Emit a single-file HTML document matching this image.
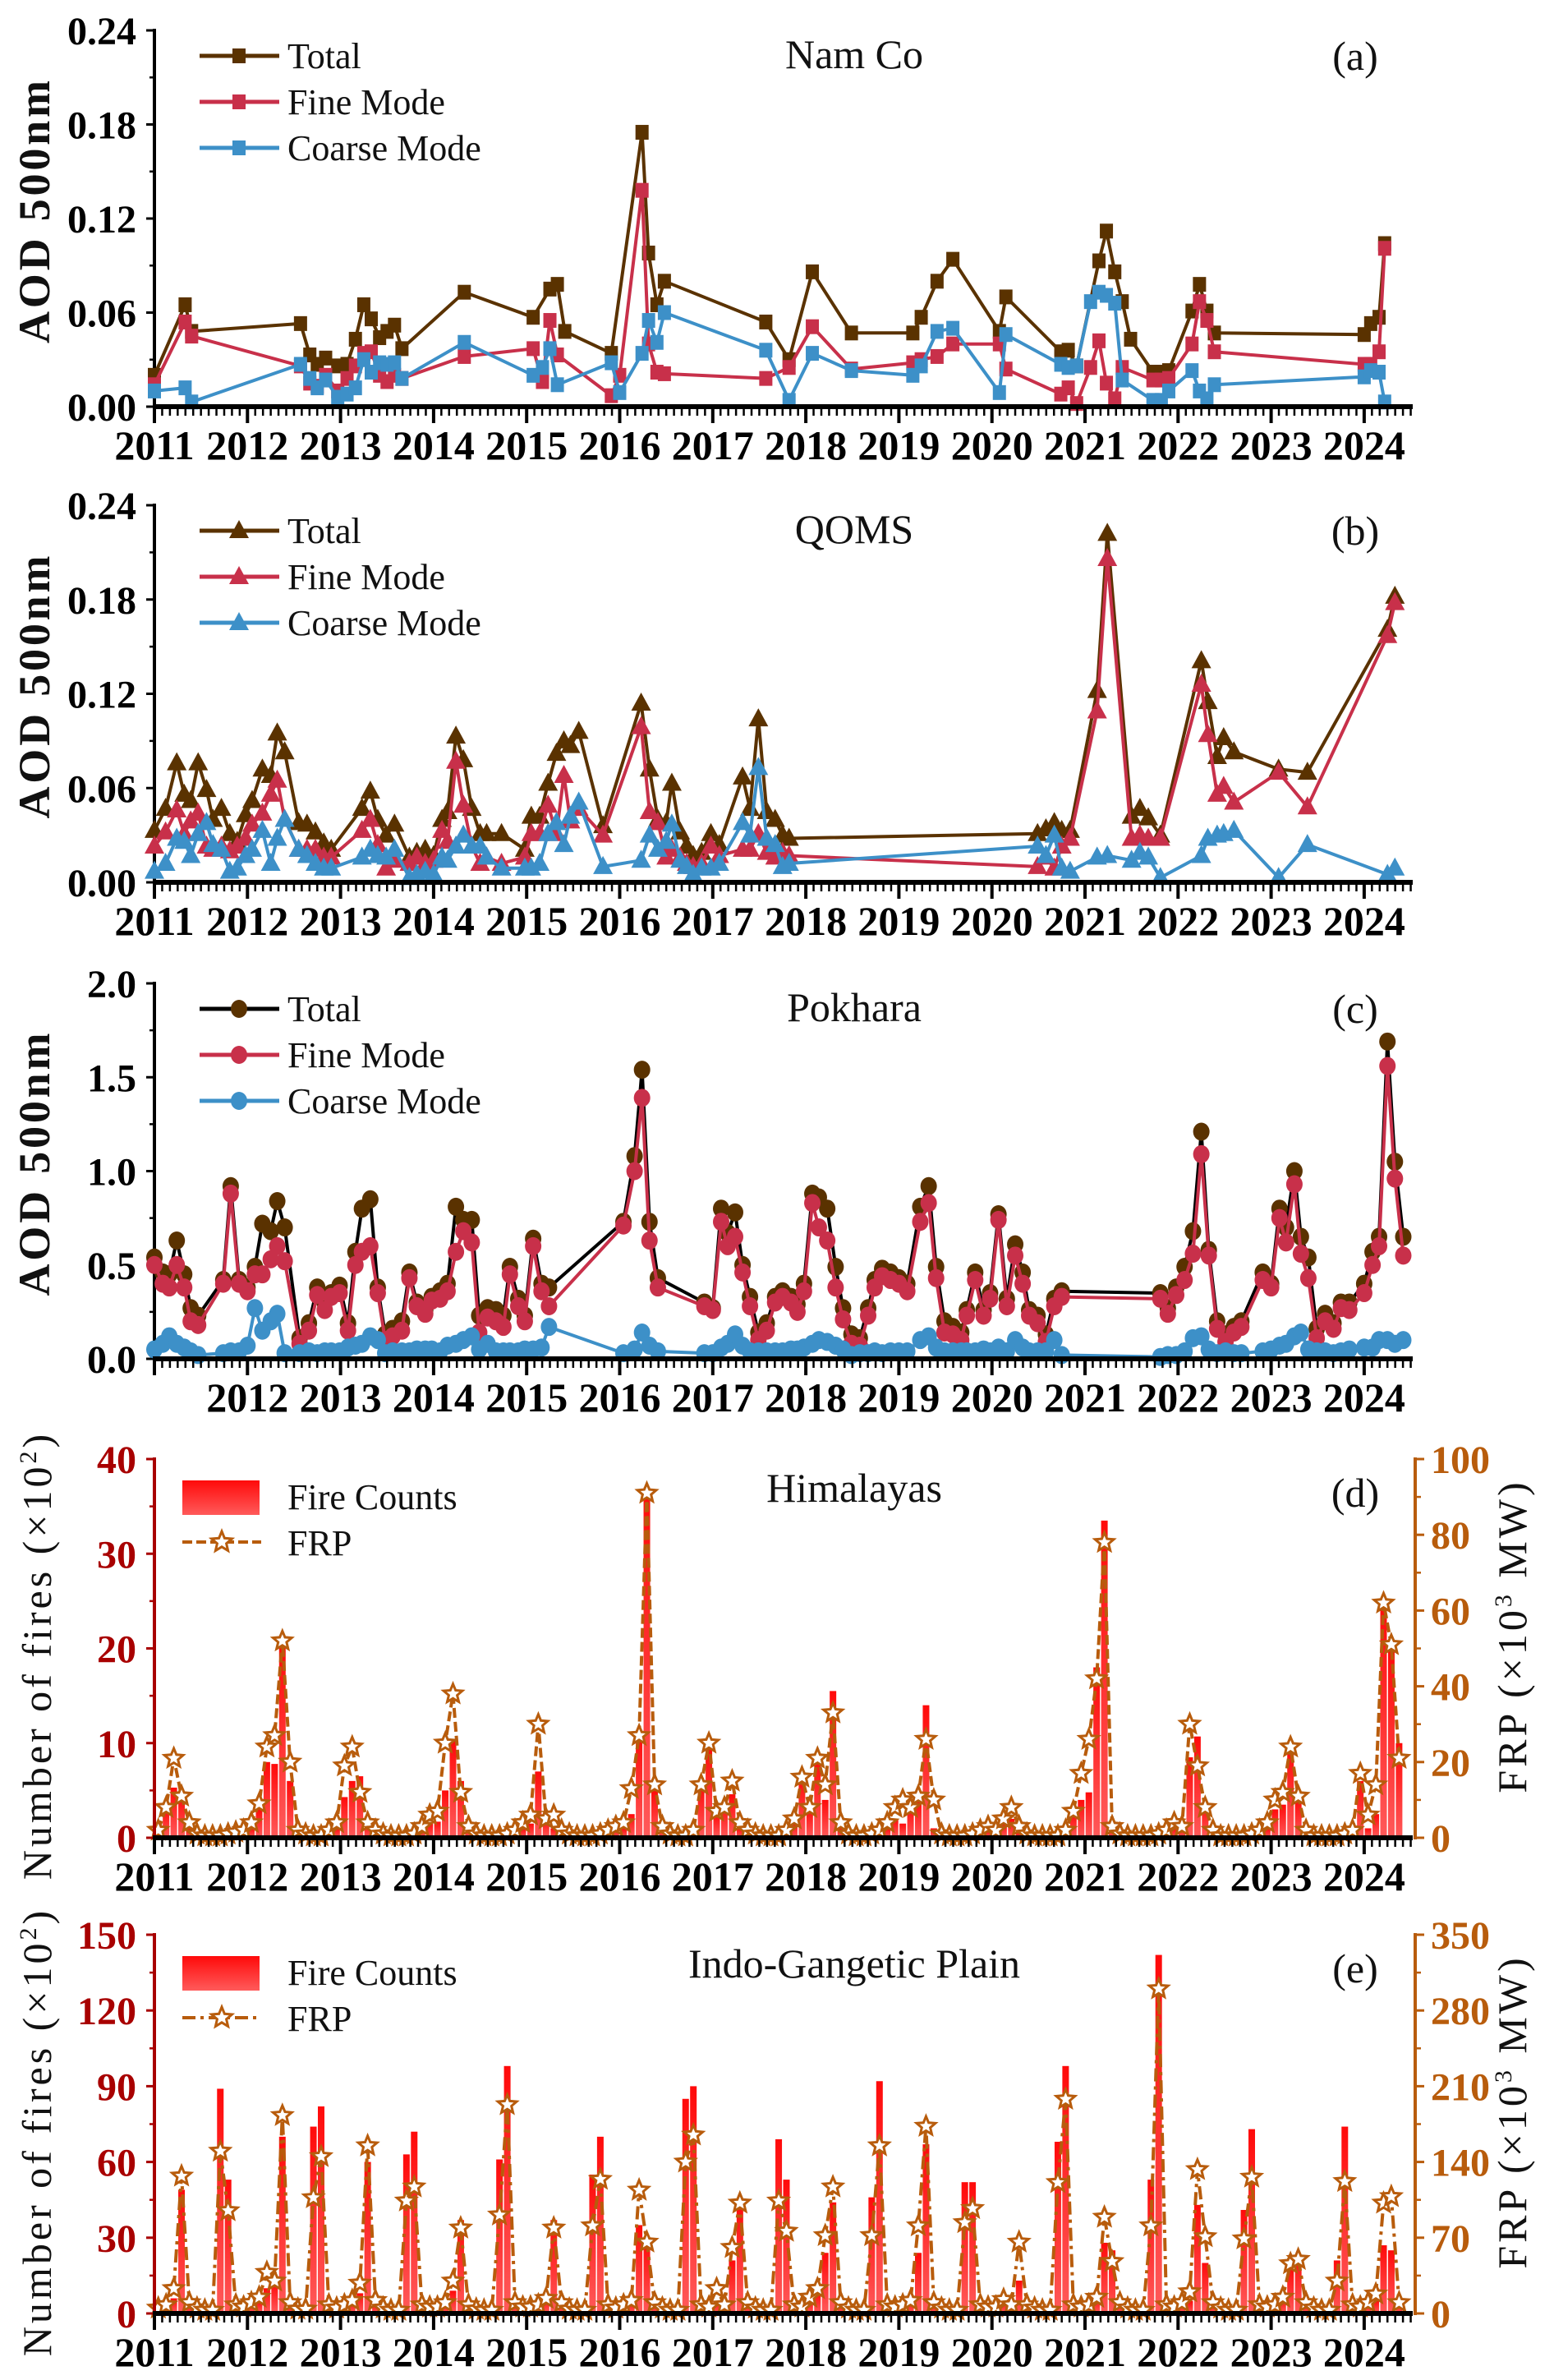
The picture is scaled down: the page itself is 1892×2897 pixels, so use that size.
<!DOCTYPE html>
<html><head><meta charset="utf-8"><title>AOD and fire time series</title>
<style>
html,body{margin:0;padding:0;background:#fff;}
svg{display:block;font-family:"Liberation Serif","DejaVu Serif",serif;}
</style></head>
<body>
<svg id="chart" xmlns="http://www.w3.org/2000/svg" width="1892" height="2897" viewBox="0 0 1892 2897">
<defs>
<linearGradient id="barGrad" x1="0" y1="0" x2="0" y2="1">
<stop offset="0" stop-color="#ff0a0a"/><stop offset="1" stop-color="#ff5a5a"/>
</linearGradient>
</defs>
</svg>
<script>
// ---------------- Panel (a) Nam Co ----------------
const aTotX=[2011.0,2011.33,2011.4,2012.57,2012.67,2012.75,2012.84,2012.97,2013.07,2013.16,2013.25,2013.33,2013.42,2013.5,2013.58,2013.66,2014.33,2015.07,2015.25,2015.33,2015.41,2015.91,2016.24,2016.31,2016.4,2016.48,2017.57,2017.82,2018.07,2018.49,2019.15,2019.24,2019.41,2019.58,2020.08,2020.15,2020.74,2020.82,2020.91,2021.15,2021.23,2021.32,2021.4,2021.49,2021.73,2021.82,2021.9,2022.15,2022.23,2022.31,2022.39,2024.0,2024.07,2024.16,2024.22];
const aTotY=[.020,.065,.048,.053,.033,.027,.031,.026,.027,.043,.065,.056,.044,.048,.052,.037,.073,.057,.075,.078,.048,.034,.175,.098,.065,.080,.054,.030,.086,.047,.047,.057,.080,.094,.048,.070,.035,.036,.026,.093,.112,.086,.067,.043,.022,.022,.023,.061,.078,.061,.047,.046,.053,.057,.104];
const aModeX=[2011.0,2011.33,2011.4,2012.57,2012.67,2012.75,2012.84,2012.97,2013.07,2013.16,2013.25,2013.33,2013.42,2013.5,2013.58,2013.66,2014.33,2015.07,2015.17,2015.25,2015.33,2015.91,2016.0,2016.24,2016.31,2016.4,2016.48,2017.57,2017.82,2018.07,2018.49,2019.15,2019.24,2019.41,2019.58,2020.08,2020.15,2020.74,2020.82,2020.91,2021.06,2021.15,2021.23,2021.32,2021.4,2021.73,2021.82,2021.9,2022.15,2022.23,2022.31,2022.39,2024.0,2024.07,2024.16,2024.22];
const aFinY=[.014,.054,.045,.026,.015,.013,.020,.010,.018,.026,.034,.035,.020,.016,.020,.018,.032,.037,.016,.055,.033,.007,.020,.138,.040,.022,.021,.018,.025,.051,.024,.028,.030,.032,.040,.040,.024,.008,.012,.002,.025,.042,.015,.005,.025,.017,.017,.018,.040,.067,.055,.035,.027,.027,.035,.101];
const aCoaY=[.010,.012,.003,.027,.018,.012,.017,.006,.008,.012,.030,.022,.028,.027,.028,.018,.041,.020,.025,.037,.014,.028,.009,.034,.055,.041,.060,.036,.004,.034,.023,.020,.026,.048,.050,.009,.046,.027,.025,.026,.067,.073,.071,.066,.017,.004,.004,.010,.023,.010,.005,.014,.019,.023,.022,.003];
// ---------------- Panel (b) QOMS ----------------
const bX=[2011.00,2011.12,2011.24,2011.32,2011.39,2011.47,2011.56,2011.63,2011.72,2011.81,2011.89,2011.98,2012.05,2012.16,2012.25,2012.32,2012.40,2012.55,2012.64,2012.73,2012.82,2012.90,2013.23,2013.32,2013.40,2013.49,2013.58,2013.74,2013.82,2013.91,2014.00,2014.09,2014.15,2014.24,2014.32,2014.41,2014.50,2014.57,2014.73,2014.98,2015.05,2015.14,2015.23,2015.32,2015.40,2015.47,2015.56,2015.82,2016.23,2016.32,2016.41,2016.50,2016.56,2016.65,2016.72,2016.79,2016.88,2016.98,2017.07,2017.32,2017.40,2017.49,2017.58,2017.67,2017.75,2017.82,2020.49,2020.58,2020.67,2020.75,2020.84,2021.13,2021.24,2021.50,2021.59,2021.68,2021.81,2022.25,2022.32,2022.42,2022.49,2022.60,2023.08,2023.39,2024.25,2024.33];
const bTot=[.033,.047,.076,.056,.052,.076,.059,.040,.047,.031,.026,.043,.052,.072,.068,.095,.083,.038,.037,.032,.025,.021,.047,.058,.040,.030,.037,.016,.019,.021,.017,.040,.045,.093,.078,.047,.031,.031,.031,.021,.042,.042,.063,.082,.090,.087,.096,.036,.114,.072,.040,.038,.063,.032,.023,.017,.019,.031,.024,.067,.047,.104,.045,.040,.030,.028,.031,.034,.038,.033,.033,.122,.222,.042,.047,.041,.030,.141,.115,.080,.092,.083,.072,.070,.161,.182];
const bFin=[.023,.032,.046,.031,.039,.044,.023,.021,.023,.020,.023,.028,.037,.044,.056,.065,.040,.021,.021,.021,.016,.016,.033,.040,.024,.009,.014,.012,.016,.012,.014,.033,.026,.077,.049,.023,.012,.016,.012,.016,.031,.031,.049,.031,.068,.039,.047,.030,.099,.045,.038,.016,.021,.016,.012,.010,.012,.023,.017,.021,.021,.031,.019,.016,.019,.017,.010,.016,.009,.023,.028,.109,.206,.028,.030,.028,.028,.126,.094,.056,.061,.051,.070,.048,.157,.178];
const bCoa=[.007,.012,.028,.026,.017,.031,.038,.024,.021,.007,.009,.017,.021,.033,.012,.028,.040,.021,.017,.012,.009,.009,.016,.021,.017,.016,.021,.003,.005,.007,.005,.016,.014,.023,.030,.023,.023,.016,.009,.009,.009,.012,.031,.038,.024,.042,.051,.010,.014,.030,.021,.026,.037,.014,.010,.005,.009,.009,.012,.038,.030,.073,.028,.024,.010,.012,.023,.017,.030,.009,.007,.016,.017,.014,.019,.016,.003,.017,.028,.030,.031,.033,.003,.024,.005,.009];
// ---------------- Panel (c) Pokhara ----------------
const cX=[2011.00,2011.09,2011.16,2011.24,2011.32,2011.39,2011.47,2011.74,2011.82,2011.91,
2012.00,2012.08,2012.16,2012.25,2012.32,2012.40,2012.56,2012.66,2012.75,2012.83,2012.90,2012.99,
2013.08,2013.16,2013.23,2013.32,2013.40,2013.48,2013.56,2013.66,2013.74,2013.82,2013.91,2013.98,
2014.07,2014.15,2014.24,2014.32,2014.41,2014.49,2014.58,2014.67,2014.75,2014.82,2014.91,2014.98,
2015.07,2015.16,2015.24,
2016.04,2016.16,2016.24,2016.32,2016.41,
2016.91,2017.00,2017.09,2017.16,2017.24,2017.32,2017.40,2017.49,2017.58,2017.67,2017.75,2017.84,2017.91,2017.98,
2018.07,2018.14,2018.23,2018.32,2018.40,2018.49,2018.58,2018.67,2018.74,2018.82,2018.91,
2019.00,2019.09,2019.23,2019.32,2019.40,2019.49,2019.58,2019.67,2019.73,2019.82,2019.91,2019.98,
2020.07,2020.16,2020.25,2020.33,2020.40,2020.49,2020.58,2020.67,2020.75,
2021.81,2021.89,2021.98,2022.07,2022.16,2022.25,2022.33,2022.42,2022.51,2022.60,2022.68,
2022.91,2023.00,2023.09,2023.16,2023.25,2023.32,2023.40,2023.49,2023.58,2023.67,2023.75,2023.84,
2024.00,2024.09,2024.16,2024.25,2024.33,2024.42];
const cTot=[.54,.46,.45,.63,.45,.27,.23,.42,.92,.42,
.38,.49,.72,.68,.84,.70,.11,.19,.38,.30,.35,.39,
.19,.57,.80,.85,.38,.13,.16,.20,.46,.30,.26,.33,
.36,.40,.81,.74,.74,.23,.27,.26,.23,.49,.32,.23,
.64,.40,.38,
.73,1.08,1.54,.73,.43,
.30,.27,.80,.67,.78,.50,.33,.14,.19,.33,.36,.33,.29,.40,
.88,.86,.80,.49,.27,.13,.11,.27,.42,.48,.46,
.43,.40,.81,.92,.49,.20,.17,.14,.26,.46,.26,.35,
.77,.32,.61,.46,.26,.23,.13,.32,.36,
.35,.27,.38,.49,.68,1.21,.58,.20,.13,.17,.20,
.46,.40,.80,.70,1.00,.65,.54,.16,.24,.19,.30,.30,
.40,.57,.65,1.69,1.05,.65];
const cFin=[.50,.40,.38,.50,.38,.20,.18,.40,.88,.40,
.36,.45,.45,.53,.60,.52,.08,.15,.34,.26,.33,.35,
.15,.50,.57,.60,.35,.10,.12,.15,.43,.28,.24,.31,
.32,.36,.57,.68,.62,.14,.22,.20,.17,.45,.28,.20,
.60,.36,.28,
.71,1.00,1.39,.63,.38,
.28,.26,.73,.60,.65,.46,.28,.10,.15,.30,.33,.30,.25,.36,
.83,.70,.63,.38,.21,.08,.07,.23,.38,.44,.42,
.40,.36,.73,.83,.43,.14,.13,.10,.23,.42,.23,.32,
.74,.28,.55,.40,.23,.19,.09,.28,.33,
.32,.24,.34,.42,.56,1.09,.55,.16,.09,.14,.17,
.42,.38,.75,.62,.93,.56,.43,.11,.20,.16,.27,.26,
.35,.50,.60,1.56,.96,.55];
const cCoa=[.05,.08,.12,.08,.06,.04,.02,.03,.04,.04,
.07,.27,.15,.20,.24,.03,.03,.04,.03,.04,.04,.04,
.06,.07,.08,.12,.10,.03,.04,.04,.04,.05,.05,.05,
.04,.07,.08,.10,.12,.05,.08,.04,.04,.04,.04,.05,
.05,.06,.17,
.03,.05,.14,.07,.04,
.03,.03,.06,.08,.13,.07,.04,.04,.04,.04,.04,.05,.05,.06,
.08,.10,.09,.07,.05,.02,.03,.03,.04,.03,.04,
.04,.04,.10,.12,.06,.04,.04,.04,.04,.04,.05,.04,
.06,.04,.10,.06,.04,.04,.04,.10,.02,
.01,.02,.02,.04,.11,.12,.05,.03,.04,.03,.03,
.04,.05,.07,.08,.12,.14,.05,.04,.04,.03,.04,.05,
.06,.06,.10,.10,.08,.10];
// ---------------- Panel (d) Himalayas (monthly from Jan 2011) ----------------
const dFire=[0.5,3,5.3,4.5,1,0.3,0.1,0.1,0.1,0.2,0.5,0.8,
1,3,8,7.8,20.5,6,0.5,0.2,0.1,0.1,0.3,1,
4.3,6,6.5,1.5,0.5,0.2,0.1,0.1,0.1,0.3,1,1.5,
1.7,5,10.3,6,1,0.3,0.1,0.1,0.1,0.2,0.5,1,
1.5,7,2,1,0.5,0.2,0.1,0.1,0.1,0.2,0.5,1,
1,2.5,11,37,5,1,0.3,0.1,0.1,0.3,5.6,9.7,
2.5,3.5,4.6,1,0.3,0.1,0.1,0.1,0.2,0.5,1.5,6.5,
3,8.5,4,15.5,1,0.3,0.1,0.1,0.2,0.5,1,2,
1.5,3.2,4,14,1,0.3,0.1,0.1,0.1,0.2,0.5,0.8,
0.5,1.5,2,0.5,0.2,0.1,0.1,0.1,0.1,0.3,2.5,4,
4.8,18,33.5,1,0.3,0.1,0.1,0.1,0.1,0.2,0.5,1,
1,8.5,10.7,3.5,0.5,0.1,0.1,0.1,0.1,0.2,0.5,1,
3,3.5,9.5,4,0.3,0.1,0.1,0.1,0.1,0.2,0.5,6,
1,2.5,25,20,10];
const dFrp=[2,8,21,11,4,1,0.5,0.5,0.5,1,1.5,2,
4,9,24,27,52,20,2,1,0.5,0.5,2,4,
19,24,12,4,2,1,0.5,0.5,0.5,1,3,6,
7,25,38,12,3,1,0.5,0.5,0.5,1,2,4,
6,30,5,6,2,1,0.5,0.5,0.5,1,2,3,
4,13,27,91,14,3,1,0.5,0.5,2,14,25,
7,8,15,4,2,1,0.5,0.5,0.5,2,5,16,
8,21,14,33,4,1,0.5,0.5,1,2,4,8,
10,8,11,26,10,1,0.5,0.5,0.5,1,2,3,
2,5,8,3,1,0.5,0.5,0.5,0.5,2,7,17,
26,42,78,3,1,0.5,0.5,0.5,0.5,1,2,4,
3,30,19,8,2,0.5,0.5,0.5,0.5,1,2,4,
10,12,24,11,2,0.5,0.5,0.5,0.5,1,2,17,
6,14,62,51,21];
// ---------------- Panel (e) Indo-Gangetic Plain (monthly from Jan 2011) ----------------
const eFire=[2,3,6,49,3,2,1,1,89,53,3,2,
4,5,10,12,70,3,1,1,74,82,4,3,
3,5,8,60,4,2,1,1,63,72,3,3,
3,4,9,37,3,2,1,1,61,98,4,3,
3,3,6,37,4,2,1,1,55,70,4,3,
4,5,35,28,4,2,1,1,85,90,4,3,
5,3,21,44,4,2,1,1,69,53,4,3,
5,8,24,44,4,2,1,1,46,92,4,3,
4,5,24,67,4,2,1,1,52,52,4,3,
3,5,4,13,3,2,1,1,68,98,4,3,
4,6,28,25,4,2,1,1,53,142,4,3,
4,5,43,20,4,2,1,1,41,73,4,3,
4,6,18,23,4,2,1,1,21,74,4,3,
4,5,27,25,4];
const eFrp=[5,8,23,127,10,5,3,3,150,95,8,6,
10,15,38,30,183,10,4,4,107,145,8,5,
8,12,28,155,12,5,3,3,104,117,8,6,
6,10,30,79,8,4,3,3,91,193,10,6,
6,8,14,79,10,4,3,3,81,124,8,5,
8,12,114,66,10,5,3,3,140,165,8,6,
23,8,61,102,10,5,3,3,104,76,8,6,
15,23,72,117,10,5,3,3,72,155,8,6,
8,12,81,173,10,5,3,3,84,97,8,6,
6,13,8,66,8,5,3,3,121,198,8,6,
8,15,89,48,10,5,3,3,81,300,8,6,
10,20,133,71,10,5,3,3,69,126,8,6,
8,15,46,50,10,5,3,3,30,122,8,6,
10,18,102,108,10];
const yearLabels=['2011','2012','2013','2014','2015','2016','2017','2018','2019','2020','2021','2022','2023','2024'];

const NS='http://www.w3.org/2000/svg';
const svg=document.getElementById('chart');
function mk(tag,attrs,parent){const e=document.createElementNS(NS,tag);for(const k in attrs)e.setAttribute(k,attrs[k]);(parent||svg).appendChild(e);return e;}
const X0=188,X1=1720,YW=113.3;
function xs(t){return X0+(t-2011)*YW;}
function yscale(top,bot,max){return v=>bot-(v/max)*(bot-top);}
const BROWN='#5a3200',RED='#c8304a',BLUE='#3d90c8',ORANGE='#b85c0c',DRED='#a80000';

function xAxis(bot,skipFirst,g){
  for(let i=0;;i++){const t=2011+i/12;const x=xs(t);if(x>X1+1)break;
    const major=(i%12===0);
    const tk=mk('line',{x1:x,y1:bot,x2:x,y2:bot+(major?20:11),stroke:'#000','stroke-width':major?4:2.5},g);
    
    
  }
  const ax=mk('line',{x1:X0-2,y1:bot,x2:X1,y2:bot,stroke:'#000','stroke-width':6},g);
  
  
  yearLabels.forEach((lab,i)=>{ if(skipFirst&&i===0)return;
    const t=mk('text',{x:xs(2011+i),y:bot+64,'text-anchor':'middle','font-size':50,'font-weight':'bold',fill:'#000'},g);
    t.textContent=lab;
    
    
  });
}
function yAxisLeft(top,bot,ticks,fmt,max,color,labColor,g){
  const ys=yscale(top,bot,max);
  const ax=mk('line',{x1:X0,y1:top-2,x2:X0,y2:bot,stroke:color,'stroke-width':4},g);
  
  
  ticks.forEach((v,i)=>{
    const tk=mk('line',{x1:X0-10,y1:ys(v),x2:X0,y2:ys(v),stroke:color,'stroke-width':3},g);
    
    
    if(i<ticks.length-1){const m=(v+ticks[i+1])/2;
      const mt=mk('line',{x1:X0-6,y1:ys(m),x2:X0,y2:ys(m),stroke:color,'stroke-width':2.5},g);
      
      }
    const t=mk('text',{x:166,y:ys(v)+17,'text-anchor':'end','font-size':48,'font-weight':'bold',fill:labColor},g);
    t.textContent=fmt(v);
    
    
  });
}
function yAxisRight(top,bot,ticks,max,g){
  const ys=yscale(top,bot,max);const XR=1723;
  const ax=mk('line',{x1:XR,y1:top-2,x2:XR,y2:bot+2,stroke:ORANGE,'stroke-width':4},g);
  
  
  ticks.forEach((v,i)=>{
    const tk=mk('line',{x1:XR,y1:ys(v),x2:XR+11,y2:ys(v),stroke:ORANGE,'stroke-width':3},g);
    
    
    if(i<ticks.length-1){const m=(v+ticks[i+1])/2;
      const mt=mk('line',{x1:XR,y1:ys(m),x2:XR+7,y2:ys(m),stroke:ORANGE,'stroke-width':2.5},g);
      
      }
    const t=mk('text',{x:1742,y:ys(v)+17,'text-anchor':'start','font-size':48,'font-weight':'bold',fill:ORANGE},g);
    t.textContent=String(v);
    
    
  });
}
function vTitle(x,cy,txt,len,bold,size,g,name){
  const t=mk('text',{x:0,y:0,transform:`translate(${x},${cy}) rotate(-90)`,'text-anchor':'middle','font-size':size,'font-weight':bold?'bold':'normal',fill:'#111'},g);
  if(len)t.setAttribute('textLength',len);
  t.textContent=txt;
  
  
  return t;
}
function label(x,y,txt,size,anchor,g,name){
  const t=mk('text',{x:x,y:y,'text-anchor':anchor,'font-size':size,fill:'#111'},g);
  t.textContent=txt;
  
  
  return t;
}
function marker(shape,x,y,fill,g){
  let m;
  if(shape==='sq') m=mk('rect',{x:x-8,y:y-9,width:16,height:18,fill:fill},g);
  else if(shape==='tri') m=mk('path',{d:`M${x},${y-13} L${x+12},${y+9} L${x-12},${y+9} Z`,fill:fill},g);
  else m=mk('ellipse',{cx:x,cy:y,rx:10,ry:11,fill:fill},g);
  return m;
}
function starPath(x,y,R){let d='';for(let i=0;i<10;i++){const r=i%2?R*0.45:R;const a=-Math.PI/2+i*Math.PI/5;d+=(i?'L':'M')+(x+r*Math.cos(a)).toFixed(1)+','+(y+r*Math.sin(a)).toFixed(1);}return d+'Z';}
function series(xArr,yArr,ys,lineColor,mColor,shape,g,name){
  const sg=mk('g',{},g);
  
  
  const pts=xArr.map((t,i)=>xs(t).toFixed(1)+','+ys(yArr[i]).toFixed(1)).join(' ');
  const pl=mk('polyline',{points:pts,fill:'none',stroke:lineColor,'stroke-width':4,'stroke-linejoin':'round'},sg);
  
  
  xArr.forEach((t,i)=>{const m=marker(shape,xs(t),ys(yArr[i]),mColor,sg);
    
    });
}
function legendAOD(y0,shape,totLine,g){
  const items=[['Total',totLine,BROWN],['Fine Mode',RED,RED],['Coarse Mode',BLUE,BLUE]];
  items.forEach((it,i)=>{const y=y0+i*56;
    const lg=mk('g',{},g);
    
    
    mk('line',{x1:243,y1:y,x2:340,y2:y,stroke:it[1],'stroke-width':5},lg);
    marker(shape,291,y,it[2],lg);
    label(350,y+15,it[0],44,'start',lg,'legend-label');
  });
}
function aodPanel(top,bot,max,ticks,fmt,skip,shape,title,tag,data,totLine,pname){
  const g=mk('g',{});
  
  
  const ys=yscale(top,bot,max);
  yAxisLeft(top,bot,ticks,fmt,max,'#000','#000',g);
  series(data[0],data[1],ys,totLine,BROWN,shape,g,'total-series');
  series(data[2],data[3],ys,RED,RED,shape,g,'fine-mode-series');
  series(data[2],data[4],ys,BLUE,BLUE,shape,g,'coarse-mode-series');
  xAxis(bot,skip,g);
  legendAOD(top+31,shape,totLine,g);
  label(1040,top+46,title,50,'middle',g,'panel-title');
  label(1650,top+48,tag,50,'middle',g,'panel-tag');
  vTitle(60,(top+bot)/2-8,'AOD  500nm',320,true,54,g,'y-axis-title');
}
aodPanel(37,495,0.24,[0,.06,.12,.18,.24],v=>v.toFixed(2),false,'sq','Nam Co','(a)',[aTotX,aTotY,aModeX,aFinY,aCoaY],BROWN,'panel-a-nam-co');
aodPanel(615,1074,0.24,[0,.06,.12,.18,.24],v=>v.toFixed(2),false,'tri','QOMS','(b)',[bX,bTot,bX,bFin,bCoa],BROWN,'panel-b-qoms');
aodPanel(1197,1654,2.0,[0,.5,1,1.5,2],v=>v.toFixed(1),true,'circ','Pokhara','(c)',[cX,cTot,cX,cFin,cCoa],'#000','panel-c-pokhara');

function firePanel(top,bot,lmax,lticks,rmax,rticks,fire,frp,title,tag,dash,pname,ltitleCy){
  const g=mk('g',{});
  
  
  const yl=yscale(top,bot,lmax),yr=yscale(top,bot,rmax);
  fire.forEach((v,i)=>{const x=xs(2011+(i+0.5)/12);
    const b=mk('rect',{x:x-4,y:yl(v),width:8,height:Math.max(0,bot-yl(v)),fill:'url(#barGrad)'},g);
    
    });
  const pts=frp.map((v,i)=>xs(2011+(i+0.5)/12).toFixed(1)+','+yr(v).toFixed(1)).join(' ');
  const pl=mk('polyline',{points:pts,fill:'none',stroke:ORANGE,'stroke-width':4,'stroke-dasharray':dash},g);
  
  
  frp.forEach((v,i)=>{const s=mk('path',{d:starPath(xs(2011+(i+0.5)/12),yr(v),12),fill:'#fff',stroke:ORANGE,'stroke-width':3},g);
    
    });
  yAxisLeft(top,bot,lticks,v=>String(v),lmax,DRED,DRED,g);
  yAxisRight(top,bot,rticks,rmax,g);
  xAxis(bot,false,g);
  const l1=mk('g',{},g);
  
  
  mk('rect',{x:222,y:top+26,width:94,height:42,fill:'url(#barGrad)'},l1);
  label(350,top+61,'Fire Counts',44,'start',l1,'legend-label');
  const l2=mk('g',{},g);
  
  
  mk('line',{x1:222,y1:top+101,x2:318,y2:top+101,stroke:ORANGE,'stroke-width':4,'stroke-dasharray':dash},l2);
  mk('path',{d:starPath(270,top+101,13),fill:'#fff',stroke:ORANGE,'stroke-width':3},l2);
  label(350,top+117,'FRP',44,'start',l2,'legend-label');
  label(1040,top+52,title,50,'middle',g,'panel-title');
  label(1650,top+58,tag,50,'middle',g,'panel-tag');
  const lt=vTitle(62,ltitleCy,'Number of fires (×10',0,false,50,g,'left-y-axis-title');
  const s1=mk('tspan',{dy:-18,'font-size':30},lt);s1.textContent='2';
  const s2=mk('tspan',{dy:18},lt);s2.textContent=')';
  lt.setAttribute('letter-spacing','4');
  const rt=vTitle(1858,(top+bot)/2-15,'FRP (×10',0,false,50,g,'right-y-axis-title');
  const s3=mk('tspan',{dy:-18,'font-size':30},rt);s3.textContent='3';
  const s4=mk('tspan',{dy:18},rt);s4.textContent=' MW)';
  rt.setAttribute('letter-spacing','4');
}
firePanel(1776,2237,40,[0,10,20,30,40],100,[0,20,40,60,80,100],dFire,dFrp,'Himalayas','(d)','12,5','panel-d-himalayas',2015);
firePanel(2355,2816,150,[0,30,60,90,120,150],350,[0,70,140,210,280,350],eFire,eFrp,'Indo-Gangetic Plain','(e)','16,6,4,6','panel-e-indo-gangetic-plain',2595);
</script>
</body></html>
